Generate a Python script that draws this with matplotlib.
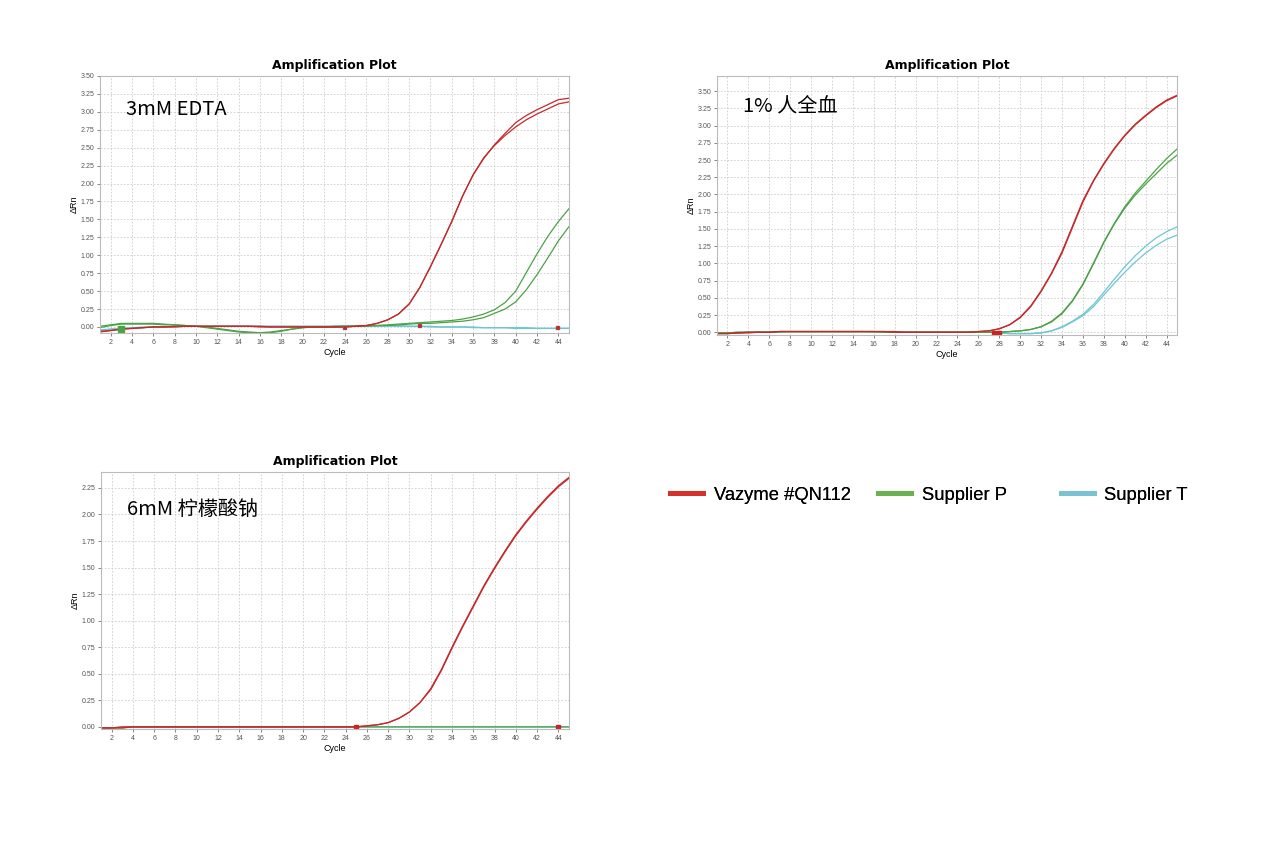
import matplotlib
matplotlib.use('Agg')
import matplotlib.pyplot as plt
import numpy as np

plt.rcParams['font.family'] = ['Liberation Sans', 'DejaVu Sans']

cycles = list(range(1, 46))

# ---- 3mM EDTA ----
edta_red_a = [-0.07, -0.05, -0.03, -0.02, -0.01, 0.0, 0.0, 0.01, 0.01, 0.01,
              0.01, 0.01, 0.01, 0.01, 0.01, 0.01, 0.0, 0.0, 0.0, 0.0,
              0.0, 0.0, 0.0, 0.0, 0.01, 0.02, 0.05, 0.10, 0.18, 0.32,
              0.55, 0.84, 1.15, 1.47, 1.82, 2.12, 2.35, 2.54, 2.70, 2.85,
              2.95, 3.03, 3.10, 3.17, 3.19]
edta_red_b = [-0.06, -0.05, -0.03, -0.02, -0.01, 0.0, 0.0, 0.0, 0.01, 0.01,
              0.01, 0.01, 0.01, 0.01, 0.01, 0.0, 0.0, 0.0, 0.0, 0.0,
              0.0, 0.0, 0.0, 0.0, 0.01, 0.02, 0.05, 0.10, 0.18, 0.32,
              0.55, 0.84, 1.15, 1.47, 1.82, 2.12, 2.36, 2.53, 2.67, 2.79,
              2.89, 2.97, 3.04, 3.11, 3.14]
edta_green_a = [0.01, 0.03, 0.05, 0.05, 0.05, 0.05, 0.04, 0.03, 0.02, 0.01,
                -0.01, -0.03, -0.05, -0.07, -0.08, -0.08, -0.07, -0.05, -0.03, -0.01,
                0.0, 0.0, 0.01, 0.01, 0.01, 0.02, 0.02, 0.03, 0.04, 0.05,
                0.06, 0.07, 0.08, 0.09, 0.11, 0.14, 0.18, 0.24, 0.34, 0.50,
                0.76, 1.02, 1.26, 1.47, 1.65]
edta_green_b = [-0.01, 0.02, 0.04, 0.04, 0.04, 0.04, 0.03, 0.03, 0.02, 0.01,
                0.0, -0.02, -0.04, -0.06, -0.07, -0.08, -0.08, -0.06, -0.03, -0.01,
                0.0, 0.0, 0.0, 0.01, 0.01, 0.01, 0.02, 0.02, 0.03, 0.04,
                0.05, 0.05, 0.06, 0.07, 0.08, 0.10, 0.13, 0.19, 0.25, 0.35,
                0.52, 0.73, 0.96, 1.20, 1.40]
edta_cyan_a = [-0.05, -0.03, -0.02, -0.01, 0.0, 0.0, 0.0, 0.01, 0.01, 0.01,
               0.01, 0.01, 0.01, 0.01, 0.01, 0.01, 0.01, 0.01, 0.01, 0.01,
               0.01, 0.01, 0.01, 0.01, 0.01, 0.01, 0.01, 0.01, 0.01, 0.01,
               0.01, 0.0, 0.0, 0.0, 0.0, -0.01, -0.01, -0.01, -0.01, -0.02,
               -0.02, -0.02, -0.02, -0.02, -0.02]
edta_cyan_b = [-0.04, -0.03, -0.02, -0.01, -0.01, 0.0, 0.0, 0.0, 0.01, 0.01,
               0.01, 0.01, 0.01, 0.01, 0.01, 0.01, 0.01, 0.01, 0.01, 0.01,
               0.01, 0.01, 0.01, 0.02, 0.02, 0.02, 0.02, 0.02, 0.02, 0.01,
               0.01, 0.01, 0.0, 0.0, 0.0, 0.0, -0.01, -0.01, -0.01, -0.01,
               -0.01, -0.02, -0.02, -0.02, -0.02]

# ---- 1% whole blood ----
blood_red_a = [-0.02, -0.02, -0.01, -0.01, 0.0, 0.0, 0.01, 0.01, 0.01, 0.01,
               0.01, 0.01, 0.01, 0.01, 0.01, 0.01, 0.01, 0.01, 0.0, 0.0,
               0.0, 0.0, 0.0, 0.0, 0.0, 0.01, 0.02, 0.05, 0.11, 0.22,
               0.38, 0.60, 0.86, 1.17, 1.54, 1.91, 2.20, 2.45, 2.67, 2.86,
               3.02, 3.15, 3.27, 3.37, 3.44]
blood_red_b = [-0.02, -0.02, -0.01, 0.0, 0.0, 0.0, 0.01, 0.01, 0.01, 0.01,
               0.01, 0.01, 0.01, 0.01, 0.01, 0.01, 0.01, 0.0, 0.0, 0.0,
               0.0, 0.0, 0.0, 0.0, 0.0, 0.01, 0.02, 0.05, 0.11, 0.21,
               0.37, 0.59, 0.85, 1.15, 1.52, 1.89, 2.19, 2.44, 2.66, 2.85,
               3.01, 3.14, 3.26, 3.36, 3.43]
blood_green_a = [-0.01, -0.01, -0.01, 0.0, 0.0, 0.0, 0.01, 0.01, 0.01, 0.01,
                 0.01, 0.01, 0.01, 0.01, 0.01, 0.01, 0.01, 0.0, 0.0, 0.0,
                 0.0, 0.0, 0.0, 0.0, 0.0, 0.0, 0.0, 0.0, 0.01, 0.02,
                 0.04, 0.08, 0.16, 0.28, 0.46, 0.70, 1.00, 1.31, 1.58, 1.82,
                 2.02, 2.19, 2.36, 2.52, 2.66]
blood_green_b = [-0.01, -0.01, 0.0, 0.0, 0.0, 0.0, 0.01, 0.01, 0.01, 0.01,
                 0.01, 0.01, 0.01, 0.01, 0.01, 0.01, 0.0, 0.0, 0.0, 0.0,
                 0.0, 0.0, 0.0, 0.0, 0.0, 0.0, 0.0, 0.0, 0.01, 0.02,
                 0.04, 0.08, 0.15, 0.27, 0.45, 0.69, 0.99, 1.30, 1.57, 1.80,
                 1.99, 2.15, 2.30, 2.45, 2.57]
blood_cyan_a = [-0.01, -0.01, 0.0, 0.0, 0.0, 0.0, 0.01, 0.01, 0.01, 0.01,
                0.01, 0.01, 0.01, 0.01, 0.01, 0.01, 0.0, 0.0, 0.0, 0.0,
                0.0, 0.0, 0.0, 0.0, 0.0, 0.0, 0.0, -0.01, -0.02, -0.02,
                -0.02, -0.01, 0.02, 0.08, 0.16, 0.26, 0.40, 0.58, 0.77, 0.95,
                1.11, 1.25, 1.37, 1.46, 1.53]
blood_cyan_b = [-0.01, -0.01, 0.0, 0.0, 0.0, 0.0, 0.0, 0.01, 0.01, 0.01,
                0.01, 0.01, 0.01, 0.01, 0.01, 0.0, 0.0, 0.0, 0.0, 0.0,
                0.0, 0.0, 0.0, 0.0, 0.0, 0.0, 0.0, -0.01, -0.02, -0.02,
                -0.02, -0.01, 0.02, 0.07, 0.15, 0.24, 0.37, 0.54, 0.71, 0.87,
                1.02, 1.15, 1.26, 1.35, 1.41]

# ---- 6mM sodium citrate ----
cit_red_a = [-0.01, -0.01, 0.0, 0.0, 0.0, 0.0, 0.0, 0.0, 0.0, 0.0,
             0.0, 0.0, 0.0, 0.0, 0.0, 0.0, 0.0, 0.0, 0.0, 0.0,
             0.0, 0.0, 0.0, 0.0, 0.0, 0.01, 0.02, 0.04, 0.08, 0.14,
             0.23, 0.36, 0.54, 0.75, 0.95, 1.14, 1.33, 1.50, 1.66, 1.81,
             1.94, 2.06, 2.17, 2.27, 2.35]
cit_red_b = [-0.01, -0.01, -0.01, 0.0, 0.0, 0.0, 0.0, 0.0, 0.0, 0.0,
             0.0, 0.0, 0.0, 0.0, 0.0, 0.0, 0.0, 0.0, 0.0, 0.0,
             0.0, 0.0, 0.0, 0.0, 0.0, 0.01, 0.02, 0.04, 0.08, 0.14,
             0.23, 0.35, 0.53, 0.74, 0.94, 1.13, 1.32, 1.49, 1.65, 1.80,
             1.93, 2.05, 2.16, 2.26, 2.34]
cit_green = [-0.01, -0.01, -0.01, 0.0, 0.0, 0.0, 0.0, 0.0, 0.0, 0.0,
             0.0, 0.0, 0.0, 0.0, 0.0, 0.0, 0.0, 0.0, 0.0, 0.0,
             0.0, 0.0, 0.0, 0.0, 0.0, 0.0, 0.0, 0.0, 0.0, 0.0,
             0.0, 0.0, 0.0, 0.0, 0.0, 0.0, 0.0, 0.0, 0.0, 0.0,
             0.0, 0.0, 0.0, 0.0, 0.0]
cit_cyan = [-0.01, -0.01, 0.0, 0.0, 0.0, 0.0, 0.0, 0.0, 0.0, 0.0,
            0.0, 0.0, 0.0, 0.0, 0.0, 0.0, 0.0, 0.0, 0.0, 0.0,
            0.0, 0.0, 0.0, 0.0, 0.0, 0.0, 0.0, 0.0, 0.0, 0.0,
            0.0, 0.0, 0.0, 0.0, 0.0, 0.0, 0.0, 0.0, 0.0, 0.0,
            0.0, 0.0, 0.0, 0.0, 0.0]

# threshold/baseline markers (cycle, value)
edta_marks_x = [24, 31, 44]
edta_marks_y = [-0.02, 0.01, -0.02]
blood_marks_x = [27.5, 28]
blood_marks_y = [-0.01, -0.01]
cit_marks_x = [25, 44]
cit_marks_y = [-0.005, -0.005]

panel_labels = ['3mM EDTA', '1% 人全血', '6mM 柠檬酸钠']
legend_names = ['Vazyme #QN112', 'Supplier P', 'Supplier T']

RED = '#c42a2a'
GREEN = '#4aa345'
CYAN = '#6cc6d6'
LEG_COLORS = ['#d7302b', '#6ab150', '#77c3d3']

W, H = 1269, 849
fig = plt.figure(figsize=(W / 100, H / 100), dpi=100)
fig.patch.set_facecolor('white')


def px_axes(l, t, r, b):
    return fig.add_axes([l / W, 1 - b / H, (r - l) / W, (b - t) / H])


def style(ax, ylim, yticks, label, lx, ly):
    ax.set_xlim(1, 45)
    ax.set_ylim(*ylim)
    ax.set_xticks(range(2, 45, 2))
    ax.set_yticks(yticks)
    ax.set_yticklabels(['%.2f' % v for v in yticks])
    ax.tick_params(labelsize=5, colors='#555555', length=2, width=0.5, pad=2)
    ax.grid(True, linestyle=(0, (2, 2)), color='#cccccc', linewidth=0.6)
    ax.set_axisbelow(True)
    for s in ax.spines.values():
        s.set_color('#bbbbbb')
        s.set_linewidth(0.8)
    ax.set_title('Amplification Plot', fontsize=9, fontweight='bold',
                 family=['DejaVu Sans'], pad=5)
    ax.set_xlabel('Cycle', fontsize=6.5, labelpad=2)
    ax.set_ylabel('ΔRn', fontsize=6.5, labelpad=1)
    ax.text(lx, ly, label, transform=ax.transAxes, fontsize=14.5,
            family=['Noto Sans CJK SC', 'DejaVu Sans'], va='center', ha='left')


lw = 0.9

ax1 = px_axes(100, 76, 569, 333)
for ys in [edta_cyan_a, edta_cyan_b]:
    ax1.plot(cycles, ys, color=CYAN, lw=lw)
for ys in [edta_green_a, edta_green_b]:
    ax1.plot(cycles, ys, color=GREEN, lw=lw)
for ys in [edta_red_a, edta_red_b]:
    ax1.plot(cycles, ys, color=RED, lw=lw)
ax1.plot(edta_marks_x, edta_marks_y, 's', color='#cc2222', ms=3, mec='#888888', mew=0.3)
ax1.plot([3], [-0.03], 's', color=GREEN, ms=4)
style(ax1, (-0.084, 3.5), np.arange(0, 3.51, 0.25), panel_labels[0], 0.055, 0.87)

ax2 = px_axes(717, 76, 1177, 335)
for ys in [blood_cyan_a, blood_cyan_b]:
    ax2.plot(cycles, ys, color=CYAN, lw=lw)
for ys in [blood_green_a, blood_green_b]:
    ax2.plot(cycles, ys, color=GREEN, lw=lw)
for ys in [blood_red_a, blood_red_b]:
    ax2.plot(cycles, ys, color=RED, lw=lw)
ax2.plot(blood_marks_x, blood_marks_y, 's', color='#cc2222', ms=2.5)
style(ax2, (-0.04, 3.72), np.arange(0, 3.51, 0.25), panel_labels[1], 0.057, 0.885)

ax3 = px_axes(101, 472, 569, 729)
ax3.plot(cycles, cit_cyan, color=CYAN, lw=lw)
ax3.plot(cycles, cit_green, color=GREEN, lw=lw)
for ys in [cit_red_a, cit_red_b]:
    ax3.plot(cycles, ys, color=RED, lw=lw)
ax3.plot(cit_marks_x, cit_marks_y, 's', color='#cc2222', ms=2.5)
style(ax3, (-0.02, 2.40), np.arange(0, 2.26, 0.25), panel_labels[2], 0.055, 0.855)

# legend: one entry each, placed like the reference
leg_x = [664, 872, 1055]
for name, col, x in zip(legend_names, LEG_COLORS, leg_x):
    h = plt.Line2D([], [], color=col, lw=3.5)
    lg = fig.legend([h], [name], loc='center left',
                    bbox_to_anchor=(x / W, 1 - 495 / H), frameon=False,
                    fontsize=13.2, handlelength=1.8, handletextpad=0.6,
                    borderaxespad=0, borderpad=0.3)
    fig.add_artist(lg)

fig.savefig('out.png', dpi=100)
